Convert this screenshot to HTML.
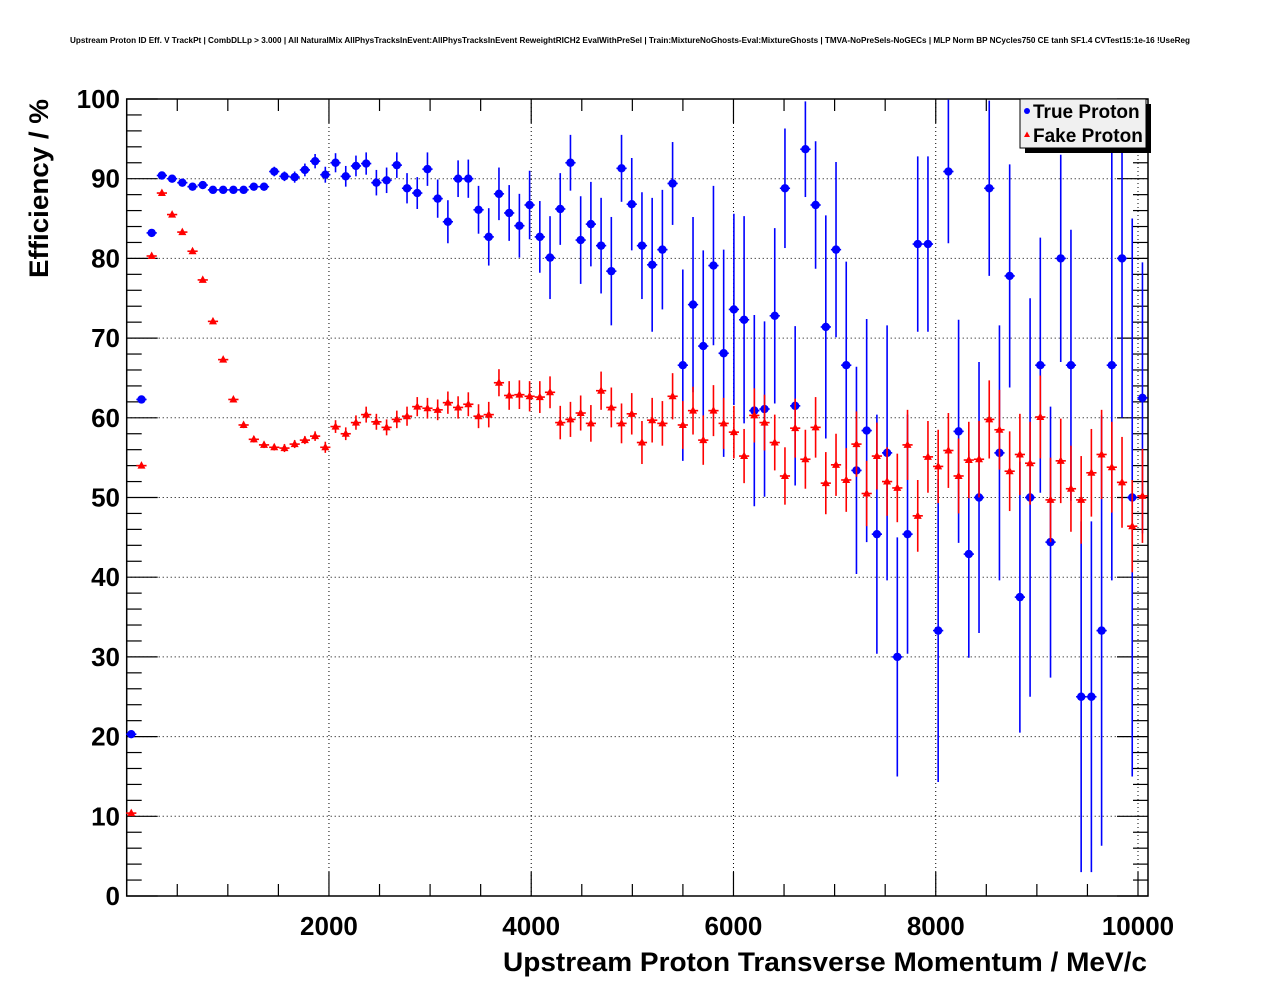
<!DOCTYPE html>
<html><head><meta charset="utf-8"><style>
html,body{margin:0;padding:0;background:#fff;}
svg{display:block;font-family:"Liberation Sans",Arial,sans-serif;}
</style></head><body>
<svg id="chart" width="1276" height="996" viewBox="0 0 1276 996" xmlns="http://www.w3.org/2000/svg">
<rect x="0" y="0" width="1276" height="996" fill="#fff"/>
<text x="630" y="43" font-size="8" font-weight="bold" text-anchor="middle" textLength="1120" lengthAdjust="spacingAndGlyphs">Upstream Proton ID Eff. V TrackPt | CombDLLp &gt; 3.000 | All NaturalMix AllPhysTracksInEvent:AllPhysTracksInEvent ReweightRICH2 EvalWithPreSel | Train:MixtureNoGhosts-Eval:MixtureGhosts | TMVA-NoPreSels-NoGECs | MLP Norm BP NCycles750 CE tanh SF1.4 CVTest15:1e-16 !UseReg</text>
<g id="grid"></g>
<g id="axes"></g>
<g id="series"></g>
<text x="1147" y="971" font-size="27" font-weight="bold" text-anchor="end" textLength="644" lengthAdjust="spacingAndGlyphs">Upstream Proton Transverse Momentum / MeV/c</text>
<text transform="translate(48,99) rotate(-90)" font-size="27" font-weight="bold" text-anchor="end" textLength="179" lengthAdjust="spacingAndGlyphs">Efficiency / %</text>
<g>
<rect x="1025" y="104" width="126" height="49" fill="#000"/>
<rect x="1020" y="99" width="126" height="49" fill="#f0f0f0" stroke="#000" stroke-width="1"/>
<circle cx="1027" cy="111" r="3" fill="#0000ff"/>
<text x="1033" y="118" font-size="19" font-weight="bold">True Proton</text>
<polygon points="1027,131.5 1030,137 1024,137" fill="#ff0000"/>
<text x="1033" y="142" font-size="19" font-weight="bold">Fake Proton</text>
</g>
</svg>
<script>
const xTicks = [2000, 4000, 6000, 8000, 10000];
const yTicks = [0, 10, 20, 30, 40, 50, 60, 70, 80, 90, 100];
const binStart = 45;
const binWidth = 101;
const trueEff = [20.3,62.3,83.2,90.4,90.0,89.5,89.0,89.2,88.6,88.6,88.6,88.6,89.0,89.0,90.9,90.3,90.2,91.1,92.2,90.5,
92.0,90.3,91.6,91.9,89.5,89.8,91.7,88.8,88.2,91.2,87.5,84.6,90.0,90.0,86.1,82.7,88.1,85.7,84.1,86.7,
82.7,80.1,86.2,92.0,82.3,84.3,81.6,78.4,91.3,86.8,81.6,79.2,81.1,89.4,66.6,74.2,69.0,79.1,68.1,73.6,
72.3,60.9,61.1,72.8,88.8,61.5,93.7,86.7,71.4,81.1,66.6,53.4,58.4,45.4,55.6,30.0,45.4,81.8,81.8,33.3,
90.9,58.3,42.9,50.0,88.8,55.6,77.8,37.5,50.0,66.6,44.4,80.0,66.6,25.0,25.0,33.3,66.6,80.0,50.0,62.5];
const trueErr = [0.4,0.4,0.4,0.3,0.3,0.3,0.3,0.3,0.3,0.3,0.3,0.4,0.4,0.5,0.6,0.6,0.7,0.8,0.9,1.0,
1.2,1.3,1.3,1.4,1.6,1.6,1.6,1.9,2.0,2.1,2.4,2.7,2.3,2.4,3.0,3.6,3.3,3.5,4.0,4.3,
4.5,5.2,4.5,3.5,5.5,5.3,6.0,6.8,4.2,5.8,6.7,8.4,7.5,5.2,12,11,12,10,13,12,
13,12,11,11,7.5,10,6,8,14,11,13,13,14,15,16,15,15,11,11,19,
9,14,13,17,11,16,14,17,25,16,17,13,17,22,22,27,27,20,35,17];
const fakeEff = [10.4,54.0,80.3,88.2,85.5,83.3,80.9,77.3,72.1,67.3,62.3,59.1,57.3,56.6,56.3,56.2,56.7,57.2,57.7,56.3,
58.9,58.0,59.4,60.4,59.5,58.8,59.8,60.2,61.4,61.2,61.0,61.9,61.3,61.7,60.2,60.4,64.4,62.8,62.9,62.7,
62.6,63.2,59.4,59.8,60.6,59.3,63.4,61.3,59.3,60.5,56.9,59.7,59.3,62.7,59.1,60.9,57.2,60.9,59.3,58.2,
55.2,60.3,59.4,56.9,52.7,58.7,54.8,58.8,51.8,54.1,52.2,56.7,50.5,55.2,52.0,51.2,56.6,47.7,55.1,53.9,
55.9,52.7,54.7,54.8,59.8,58.5,53.3,55.4,54.3,60.1,49.7,54.6,51.1,49.7,53.1,55.4,53.8,51.9,46.4,50.2];
const fakeErr = [0.3,0.3,0.3,0.3,0.3,0.3,0.3,0.3,0.3,0.3,0.3,0.4,0.4,0.4,0.4,0.5,0.5,0.5,0.6,0.7,
0.8,0.8,0.9,1.0,1.0,1.0,1.1,1.2,1.2,1.3,1.3,1.4,1.4,1.5,1.5,1.6,1.7,1.8,1.8,1.9,
2.0,2.0,2.1,2.2,2.2,2.3,2.4,2.5,2.5,2.6,2.7,2.8,2.8,2.9,3.0,3.0,3.1,3.2,3.2,3.3,
3.4,3.4,3.5,3.5,3.6,3.7,3.7,3.8,3.9,3.9,4.0,4.1,4.1,4.2,4.3,4.3,4.4,4.5,4.5,4.6,
4.7,4.7,4.8,4.8,4.9,5.0,5.0,5.1,5.2,5.2,5.3,5.3,5.4,5.5,5.5,5.6,5.7,5.7,5.8,5.9];

const NS = 'http://www.w3.org/2000/svg';
const L = 126.7, R = 1148, T = 99, B = 896;
function sx(v){ return L + v * (1138 - L) / 10000; }
function sy(v){ return B - v * (B - T) / 100; }
function mk(tag, attrs, parent){
  const e = document.createElementNS(NS, tag);
  for (const k in attrs) e.setAttribute(k, attrs[k]);
  parent.appendChild(e);
  return e;
}
const grid = document.getElementById('grid');
const axes = document.getElementById('axes');
const series = document.getElementById('series');

xTicks.forEach(v => {
  const l = mk('line', {x1: sx(v), x2: sx(v), y1: T, y2: B, stroke: '#000', 'stroke-width': 1, 'stroke-dasharray': '1,3'}, grid);
  
  
});
yTicks.forEach(v => {
  if (v === 0 || v === 100) return;
  const l = mk('line', {x1: L, x2: R, y1: sy(v), y2: sy(v), stroke: '#000', 'stroke-width': 1, 'stroke-dasharray': '1,3'}, grid);
  
  
});

const frame = mk('rect', {x: L, y: T, width: R - L, height: B - T, fill: 'none', stroke: '#000', 'stroke-width': 1.5}, axes);



for (let v = 0; v <= 100; v += 2) {
  const len = (v % 10 === 0) ? 31 : 15;
  mk('line', {x1: L, x2: L + len, y1: sy(v), y2: sy(v), stroke: '#000', 'stroke-width': 1.2}, axes);
  mk('line', {x1: R, x2: R - len, y1: sy(v), y2: sy(v), stroke: '#000', 'stroke-width': 1.2}, axes);
}
yTicks.forEach(v => {
  const t = mk('text', {x: 120, y: sy(v) + 9, 'font-size': 26, 'font-weight': 'bold', 'text-anchor': 'end'}, axes);
  t.textContent = String(v);
  
  
});
for (let v = 500; v <= 10000; v += 500) {
  const len = (v % 2000 === 0) ? 24 : 12;
  mk('line', {x1: sx(v), x2: sx(v), y1: B, y2: B - len, stroke: '#000', 'stroke-width': 1.2}, axes);
  mk('line', {x1: sx(v), x2: sx(v), y1: T, y2: T + len, stroke: '#000', 'stroke-width': 1.2}, axes);
}
xTicks.forEach(v => {
  const t = mk('text', {x: sx(v), y: 935, 'font-size': 26, 'font-weight': 'bold', 'text-anchor': 'middle'}, axes);
  t.textContent = String(v);
  
  
});

function clampY(v){ return Math.max(T, Math.min(B, sy(v))); }
function drawSeries(vals, errs, color, kind){
  const g = mk('g', {}, series);
  
  
  vals.forEach((v, i) => {
    const c = binStart + i * binWidth;
    const x = sx(c), y = sy(v);
    const hw = (sx(c + binWidth / 2) - sx(c - binWidth / 2)) / 2;
    mk('line', {x1: x, x2: x, y1: clampY(v + errs[i]), y2: clampY(v - errs[i]), stroke: color, 'stroke-width': 1.6}, g);
    mk('line', {x1: x - hw, x2: x + hw, y1: y, y2: y, stroke: color, 'stroke-width': 1.6}, g);
    let m;
    if (kind === 'circle') {
      m = mk('circle', {cx: x, cy: y, r: 4.2, fill: color}, g);
      
    } else {
      m = mk('polygon', {points: `${x},${y-4.5} ${x+4},${y+3} ${x-4},${y+3}`, fill: color}, g);
      
    }
    
  });
}
drawSeries(trueEff, trueErr, '#0000ff', 'circle');
drawSeries(fakeEff, fakeErr, '#ff0000', 'triangle');
</script>
</body></html>
